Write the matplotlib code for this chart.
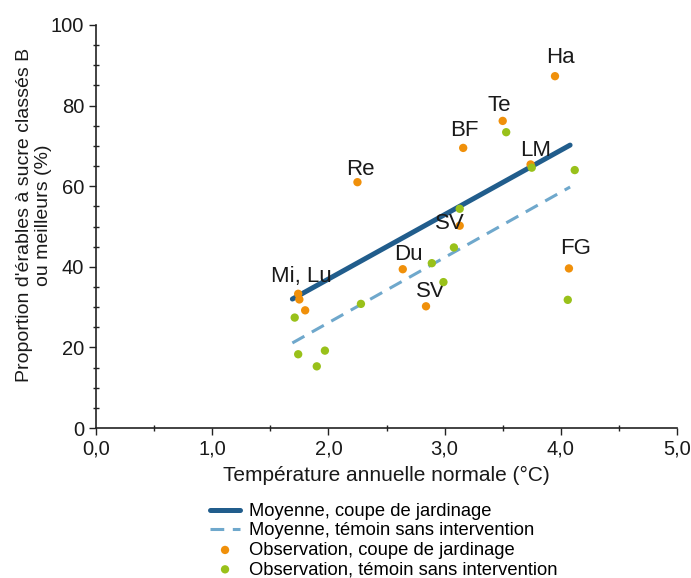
import matplotlib
matplotlib.use("Agg")
import matplotlib.pyplot as plt
from matplotlib.ticker import MultipleLocator, FuncFormatter

plt.rcParams['font.family'] = ['Liberation Sans', 'DejaVu Sans']

# Observations, coupe de jardinage (orange)
obs_cj_x = [3.95, 3.50, 3.16, 2.25, 3.74, 3.13, 2.64, 2.84, 4.07, 1.74, 1.75, 1.80]
obs_cj_y = [87.3, 76.2, 69.5, 61.0, 65.4, 50.2, 39.4, 30.2, 39.6, 33.3, 31.9, 29.2]

# Observations, témoin sans intervention (green)
obs_t_x = [3.53, 3.75, 4.12, 3.13, 3.08, 2.89, 2.99, 2.28, 1.71, 1.74, 1.97, 1.90, 4.06]
obs_t_y = [73.4, 64.6, 64.0, 54.4, 44.8, 40.9, 36.2, 30.8, 27.4, 18.3, 19.2, 15.3, 31.8]

# Mean lines
mean_cj_x = [1.69, 4.08]
mean_cj_y = [32.0, 70.2]
mean_t_x = [1.69, 4.08]
mean_t_y = [21.1, 59.8]

# Site labels (attached to orange observation index)
site_labels = ["Ha", "Te", "BF", "Re", "LM", "SV", "Du", "SV", "FG", "Mi, Lu"]
site_idx = [0, 1, 2, 3, 4, 5, 6, 7, 8, 9]
label_offsets = [(5, 19), (-3, 15), (1, 17), (3, 13), (5, 14), (-10, 2), (6, 15), (5, 15), (7, 20), (3, 17)]

xticks = [0, 1, 2, 3, 4, 5]
yticks = [0, 20, 40, 60, 80, 100]

c_dark = "#215d8c"
c_light = "#6fa8cc"
c_orange = "#f0900a"
c_green = "#99c11a"

fig = plt.figure(figsize=(6.91, 5.78), dpi=100)
ax = fig.add_axes([96/691, 1-428/578, (677-96)/691, (428-25)/578])

ax.plot(mean_cj_x, mean_cj_y, color=c_dark, lw=3.6, solid_capstyle='round',
        label="Moyenne, coupe de jardinage")
ax.plot(mean_t_x, mean_t_y, color=c_light, lw=2.2, dashes=(4.5, 2.8),
        label="Moyenne, témoin sans intervention")
ax.scatter(obs_cj_x, obs_cj_y, s=36, color=c_orange, edgecolors='none', zorder=3,
           label="Observation, coupe de jardinage")
ax.scatter(obs_t_x, obs_t_y, s=36, color=c_green, edgecolors='none', zorder=4,
           label="Observation, témoin sans intervention")

for lab, i, off in zip(site_labels, site_idx, label_offsets):
    ax.annotate(lab, (obs_cj_x[i], obs_cj_y[i]), xytext=off, textcoords='offset pixels',
                ha='center', va='center', fontsize=16, color='#1a1a1a')

ax.set_xlim(0, 5)
ax.set_ylim(0, 100)
ax.set_xticks(xticks)
ax.set_yticks(yticks)
ax.xaxis.set_major_formatter(FuncFormatter(lambda v, p: f"{v:.1f}".replace('.', ',')))
ax.xaxis.set_minor_locator(MultipleLocator(0.5))
ax.yaxis.set_minor_locator(MultipleLocator(5))
ax.tick_params(which='major', direction='out', length=5, width=1, labelsize=14.5, color='#222222', labelcolor='#1a1a1a')
ax.tick_params(which='minor', direction='inout', length=4, width=1, color='#222222')
for s in ['top', 'right']:
    ax.spines[s].set_visible(False)
for s in ['left', 'bottom']:
    ax.spines[s].set_linewidth(1.2)
    ax.spines[s].set_color('#222222')

ax.set_xlabel("Température annuelle normale (°C)", fontsize=15, color='#1a1a1a', labelpad=5)
fig.text(34/691, 1-215/578, "Proportion d'érables à sucre classés B\nou meilleurs (%)",
         rotation=90, ha='center', va='center', fontsize=14, color='#1a1a1a',
         linespacing=1.15, multialignment='center')

leg = fig.legend(loc='upper left', bbox_to_anchor=(210/691, 1-503/578), frameon=False,
                 fontsize=13.2, handlelength=1.64, handletextpad=0.5, labelspacing=0.13,
                 borderpad=0, borderaxespad=0)

fig.savefig("out.png", dpi=100)
